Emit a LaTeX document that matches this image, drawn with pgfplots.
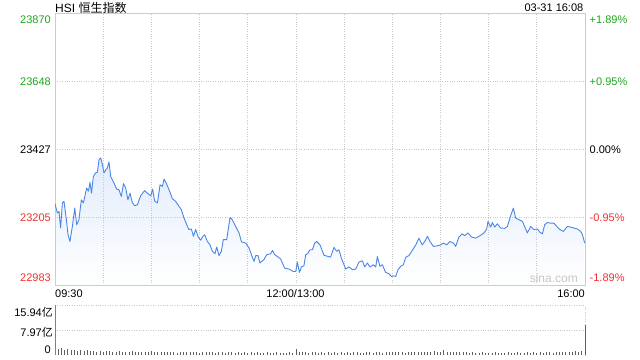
\documentclass[border=0pt]{standalone}
\usepackage{pgfplots}
\pgfplotsset{compat=1.18}
\usepackage{pgfplotstable}
\usepackage{fontspec}
\setmainfont{Liberation Sans}
\newfontfamily\cjk{Noto Sans CJK SC}
\definecolor{linec}{RGB}{74,134,232}
\definecolor{fillc}{RGB}{226,236,252}
\definecolor{upg}{RGB}{30,165,30}
\definecolor{dnr}{RGB}{238,50,50}
\definecolor{gridc}{RGB}{200,200,200}
\definecolor{framec}{RGB}{205,205,205}
\definecolor{volc}{RGB}{95,95,95}
\pgfplotsset{
  layers/mylayers/.define layer set={axis background,pre main,axis grid,axis ticks,axis lines,axis tick labels,main,axis descriptions,axis foreground}{/pgfplots/layers/standard},
}
\pgfplotstableread{
m v
0 23248
1.5 23218
2.5 23223
3.5 23169
4.6 23251
5.6 23256
7.1 23196
8.1 23147
9.3 23125
10.8 23174
12.3 23234
13.5 23180
14.9 23196
16.4 23261
17.7 23251
19.7 23300
20.8 23289
21.8 23318
22.7 23283
23.9 23337
25.3 23349
26.4 23351
27.4 23392
28.5 23398
29.5 23376
30.5 23349
31.6 23359
32.6 23365
33.6 23385
34.7 23337
36.7 23316
38.4 23296
39.8 23294
41.3 23272
42.6 23314
44.0 23300
45.4 23261
46.7 23283
48.2 23251
49.6 23242
51.3 23245
53.4 23275
55.8 23291
57.5 23283
59.6 23274
60.8 23296
62.1 23256
63.8 23251
65.4 23310
66.9 23305
67.9 23329
69.4 23314
71.0 23294
73.1 23265
75.1 23256
77.2 23240
78.7 23229
80.3 23202
82.0 23180
83.4 23164
84.9 23166
86.2 23142
87.6 23164
89.0 23142
90.7 23129
92.1 23142
93.2 23147
94.9 23125
96.5 23114
98.0 23093
99.6 23085
100.7 23107
102.1 23079
103.6 23093
104.8 23131
106.9 23131
109.0 23204
110.4 23196
112.5 23174
114.6 23153
116.1 23124
118.7 23120
120.8 23104
122.3 23082
123.9 23060
125.0 23079
126.4 23079
127.6 23055
130.1 23066
131.8 23082
134.3 23085
135.4 23096
136.8 23082
138.5 23076
140.5 23068
143.0 23038
145.7 23035
148.4 23027
149.9 23027
150.9 23058
152.2 23024
153.4 23042
155.0 23046
156.1 23082
157.2 23085
158.8 23098
160.3 23098
161.7 23120
162.9 23125
165.0 23114
167.5 23080
171.6 23074
173.7 23106
175.4 23093
176.8 23098
178.3 23071
181.0 23035
183.0 23042
185.2 23033
187.2 23035
189.3 23058
191.4 23062
192.8 23042
194.5 23055
196.1 23042
198.2 23049
199.7 23042
200.7 23076
202.3 23044
203.8 23049
205.9 23024
207.9 23020
209.4 23011
211.1 23013
212.1 23011
213.6 23033
215.2 23044
216.9 23049
218.4 23074
220.4 23079
222.5 23096
224.6 23114
226.6 23136
228.7 23114
230.2 23125
231.9 23142
233.5 23125
235.6 23109
238.1 23111
240.1 23114
241.8 23120
243.9 23114
245.9 23125
248.0 23120
249.5 23109
251.5 23140
253.6 23150
255.1 23144
257.1 23153
259.3 23140
261.9 23136
264.6 23144
267.1 23153
268.8 23166
269.6 23191
271.3 23172
272.3 23187
273.8 23172
275.4 23183
277.5 23169
280.0 23168
281.7 23174
283.7 23209
285.4 23234
286.8 23202
288.9 23196
291.0 23191
292.4 23174
294.1 23153
296.2 23174
298.2 23164
300.3 23166
302.0 23155
303.5 23150
304.9 23180
306.6 23187
308.6 23185
310.7 23185
312.8 23172
314.4 23164
316.5 23158
319.0 23174
321.1 23172
323.1 23169
325.2 23166
327.3 23158
328.4 23147
329.8 23120
}\pricetable
\pgfplotstableread{
m vol
0 2.3
2 1.9
4 2.1
6 1.6
8 1.8
10 1.5
12 1.7
14 1.4
16 1.6
18 1.3
20 1.5
22 1.2
24 1.4
26 1.1
28 1.3
30 1.0
32 1.2
34 1.3
36 1.0
38 1.1
40 1.2
42 0.9
44 1.1
46 1.0
48 1.2
50 0.9
52 1.0
54 1.1
56 0.8
58 1.0
60 1.2
62 0.9
64 1.0
66 0.8
68 1.1
70 0.9
72 0.8
74 1.0
76 0.7
78 0.9
80 1.0
82 0.8
84 0.9
86 1.1
88 0.8
90 0.7
92 0.9
94 1.0
96 0.8
98 0.9
100 0.7
102 0.8
104 1.0
106 0.7
108 0.8
110 0.9
112 0.7
114 0.8
116 0.7
118 0.9
120 0.6
122 0.8
124 0.7
126 0.8
128 0.6
130 0.7
132 0.8
134 0.6
136 0.7
138 0.8
140 0.6
142 0.7
144 0.6
146 0.8
148 0.7
150 1.9
152 1.0
154 0.8
156 0.9
158 0.7
160 0.8
162 0.9
164 0.7
166 0.8
168 0.6
170 0.9
172 0.7
174 0.8
176 0.7
178 0.9
180 0.6
182 0.8
184 0.7
186 0.9
188 0.8
190 0.7
192 0.6
194 0.8
196 0.9
198 0.7
200 0.8
202 0.9
204 0.7
206 1.0
208 0.8
210 0.9
212 1.0
214 0.8
216 0.9
218 0.7
220 1.0
222 0.8
224 0.9
226 1.1
228 0.8
230 0.9
232 1.0
234 0.8
236 1.2
238 0.9
240 0.8
242 1.5
244 0.9
246 1.1
248 0.8
250 1.0
252 0.8
254 0.8
256 0.9
258 0.7
260 0.8
262 0.6
264 0.7
266 0.8
268 0.6
270 0.7
272 0.6
274 0.8
276 0.7
278 0.6
280 0.7
282 0.8
284 0.6
286 0.7
288 0.9
290 0.7
292 0.6
294 0.8
296 0.7
298 0.8
300 0.6
302 0.8
304 0.7
306 0.9
308 0.8
310 0.7
312 0.9
314 1.0
316 0.8
318 1.1
320 0.9
322 1.0
324 1.2
326 1.0
328 1.3
330 9.5
}\voltable
\begin{document}
\begin{tikzpicture}
% price panel (y measured from the axis floor 22983)
\begin{axis}[
  at={(55bp,-285bp)}, anchor=south west,
  width=530bp, height=271.7bp, scale only axis,
  xmin=0, xmax=330, ymin=0, ymax=887,
  xtick={30,60,...,300}, ytick={222,444,665},
  xticklabels={}, yticklabels={},
  grid=major, major grid style={gridc, dotted, line width=0.7bp},
  tick style={draw=none},
  axis line style={framec, line width=0.9bp},
  set layers=mylayers,
]
\addplot[on layer=pre main, draw=none, top color=fillc, bottom color=white] table[x=m, y expr=\thisrow{v}-22983] {\pricetable} \closedcycle;
\addplot[draw=linec, line width=0.9bp, line join=round] table[x=m, y expr=\thisrow{v}-22983] {\pricetable};
\end{axis}
% volume panel
\begin{axis}[
  at={(55bp,-355bp)}, anchor=south west,
  width=530bp, height=50bp, scale only axis,
  xmin=0, xmax=330, ymin=0, ymax=15.94,
  xtick={330}, ytick={7.97,15.94},
  xticklabels={}, yticklabels={},
  grid=major, major grid style={gridc, dotted, line width=0.7bp},
  tick style={draw=none},
  axis line style={draw=none},
  clip=false,
]
\addplot[ycomb, draw=volc, line width=0.7bp, mark=none] table[x=m, y=vol] {\voltable};
\draw[gray, line width=0.8bp] (rel axis cs:0,0) -- (rel axis cs:0,1);
\end{axis}
% texts
\node[anchor=west, font=\fontsize{12bp}{14bp}\selectfont, inner sep=0pt] at (55bp,-8bp) {HSI {\cjk 恒生指数}};
\node[anchor=east, font=\fontsize{11bp}{13bp}\selectfont, inner sep=0pt] at (583.5bp,-8bp) {03-31 16:08};
\begin{scope}[every node/.style={font=\fontsize{11bp}{13bp}\selectfont, inner sep=0pt}]
\node[anchor=east, text=upg] at (51bp,-20bp) {23870};
\node[anchor=east, text=upg] at (51bp,-82bp) {23648};
\node[anchor=east, text=black] at (51bp,-149.5bp) {23427};
\node[anchor=east, text=dnr] at (51bp,-217.5bp) {23205};
\node[anchor=east, text=dnr] at (51bp,-277.5bp) {22983};
\node[anchor=west, text=upg] at (589.5bp,-20bp) {+1.89\%};
\node[anchor=west, text=upg] at (589.5bp,-82bp) {+0.95\%};
\node[anchor=west, text=black] at (589.5bp,-149.5bp) {0.00\%};
\node[anchor=west, text=dnr] at (589.5bp,-217.5bp) {-0.95\%};
\node[anchor=west, text=dnr] at (589.5bp,-277.5bp) {-1.89\%};
\node[anchor=west] at (55bp,-293.5bp) {09:30};
\node[anchor=center] at (295.5bp,-293.5bp) {12:00/13:00};
\node[anchor=east] at (585bp,-293.5bp) {16:00};
\node[anchor=east] at (53bp,-312bp) {15.94{\cjk 亿}};
\node[anchor=east] at (53bp,-332bp) {7.97{\cjk 亿}};
\node[anchor=east] at (51bp,-350bp) {0};
\node[anchor=east, text=black!22, font=\fontsize{12bp}{14bp}\selectfont] at (578bp,-278bp) {sina.com};
\end{scope}
\pgfresetboundingbox
\useasboundingbox (0bp,0bp) rectangle (640bp,-360bp);
\end{tikzpicture}
\end{document}
